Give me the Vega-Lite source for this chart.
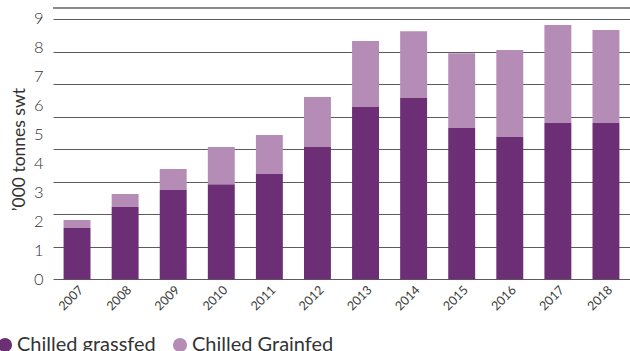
{
  "$schema": "https://vega.github.io/schema/vega-lite/v6.json",
  "width": 577,
  "height": 260.3,
  "autosize": {"type": "none"},
  "padding": {"left": 53, "top": 19, "right": 0, "bottom": 72},
  "background": "white",
  "config": {
    "font": "Lato",
    "view": {"stroke": null},
    "axis": {"labelFont": "Lato", "titleFont": "Lato"},
    "legend": {"labelFont": "Lato"}
  },
  "data": {
    "values": [
      {"year": "2007", "type": "Chilled grassfed", "tonnes": 1.77},
      {"year": "2007", "type": "Chilled Grainfed", "tonnes": 0.28},
      {"year": "2008", "type": "Chilled grassfed", "tonnes": 2.5},
      {"year": "2008", "type": "Chilled Grainfed", "tonnes": 0.45},
      {"year": "2009", "type": "Chilled grassfed", "tonnes": 3.09},
      {"year": "2009", "type": "Chilled Grainfed", "tonnes": 0.72},
      {"year": "2010", "type": "Chilled grassfed", "tonnes": 3.29},
      {"year": "2010", "type": "Chilled Grainfed", "tonnes": 1.28},
      {"year": "2011", "type": "Chilled grassfed", "tonnes": 3.64},
      {"year": "2011", "type": "Chilled Grainfed", "tonnes": 1.35},
      {"year": "2012", "type": "Chilled grassfed", "tonnes": 4.57},
      {"year": "2012", "type": "Chilled Grainfed", "tonnes": 1.73},
      {"year": "2013", "type": "Chilled grassfed", "tonnes": 5.96},
      {"year": "2013", "type": "Chilled Grainfed", "tonnes": 2.28},
      {"year": "2014", "type": "Chilled grassfed", "tonnes": 6.27},
      {"year": "2014", "type": "Chilled Grainfed", "tonnes": 2.31},
      {"year": "2015", "type": "Chilled grassfed", "tonnes": 5.23},
      {"year": "2015", "type": "Chilled Grainfed", "tonnes": 2.59},
      {"year": "2016", "type": "Chilled grassfed", "tonnes": 4.92},
      {"year": "2016", "type": "Chilled Grainfed", "tonnes": 3.01},
      {"year": "2017", "type": "Chilled grassfed", "tonnes": 5.4},
      {"year": "2017", "type": "Chilled Grainfed", "tonnes": 3.39},
      {"year": "2018", "type": "Chilled grassfed", "tonnes": 5.4},
      {"year": "2018", "type": "Chilled Grainfed", "tonnes": 3.22}
    ]
  },
  "layer": [
    {
      "mark": {"type": "bar"},
      "encoding": {
        "x": {
          "field": "year",
          "type": "ordinal",
          "scale": {"paddingInner": 0.44, "paddingOuter": 0.22},
          "axis": {
            "title": null,
            "labelAngle": -45,
            "labelFontSize": 12.5,
            "labelFontWeight": "normal",
            "labelColor": "#3a3a3a",
            "labelPadding": 4,
            "ticks": false,
            "domain": false,
            "grid": false
          }
        },
        "y": {
          "field": "tonnes",
          "type": "quantitative",
          "stack": "zero",
          "scale": {"domain": [0, 9], "nice": false, "zero": true},
          "axis": {
            "orient": "left",
            "values": [0, 1, 2, 3, 4, 5, 6, 7, 8, 9],
            "grid": false,
            "domain": false,
            "ticks": false,
            "labelPadding": 10,
            "labelFontSize": 16.5,
            "labelFontWeight": 300,
            "labelColor": "#333333",
            "title": "’000 tonnes swt",
            "titleFontSize": 17.5,
            "titleFontWeight": "normal",
            "titleColor": "#333333",
            "titlePadding": 5
          }
        },
        "color": {
          "field": "type",
          "type": "nominal",
          "scale": {
            "domain": ["Chilled grassfed", "Chilled Grainfed"],
            "range": ["#6c2e74", "#b48cb5"]
          },
          "legend": {
            "title": null,
            "orient": "none",
            "direction": "horizontal",
            "legendX": -58,
            "legendY": 316,
            "symbolType": "circle",
            "symbolSize": 200,
            "symbolStrokeWidth": 0,
            "labelFontSize": 20,
            "labelFontWeight": "normal",
            "labelColor": "#333333",
            "labelOffset": 2,
            "columnPadding": 14
          }
        },
        "order": {"field": "type", "sort": "descending"}
      }
    },
    {
      "mark": {"type": "rule", "color": "#8a8a8a", "strokeWidth": 1},
      "encoding": {
        "y": {
          "datum": 9.38,
          "type": "quantitative",
          "scale": {"domain": [0, 9], "nice": false, "zero": true},
          "axis": {
            "orient": "left",
            "values": [0, 1.125, 2.25, 3.375, 4.5, 5.625, 6.75, 7.875, 9],
            "grid": true,
            "gridColor": "#5a5a5a",
            "gridWidth": 1,
            "gridOpacity": 1,
            "labels": false,
            "ticks": false,
            "domain": false,
            "title": null
          }
        }
      }
    }
  ],
  "resolve": {"axis": {"y": "independent"}}
}
